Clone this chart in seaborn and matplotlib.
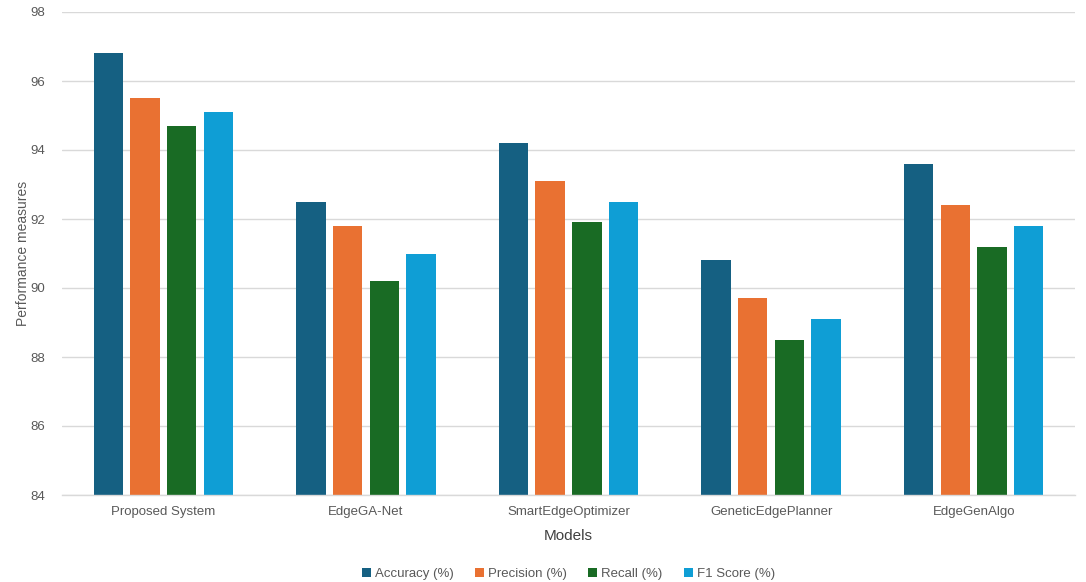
import matplotlib
matplotlib.use("Agg")
import matplotlib.pyplot as plt
import seaborn as sns
import pandas as pd

models = ["Proposed System", "EdgeGA-Net", "SmartEdgeOptimizer", "GeneticEdgePlanner", "EdgeGenAlgo"]
metrics = ["Accuracy (%)", "Precision (%)", "Recall (%)", "F1 Score (%)"]
accuracy = [96.8, 92.5, 94.2, 90.8, 93.6]
precision = [95.5, 91.8, 93.1, 89.7, 92.4]
recall = [94.7, 90.2, 91.9, 88.5, 91.2]
f1_score = [95.1, 91.0, 92.5, 89.1, 91.8]
colors = ["#156082", "#E97132", "#196B24", "#0F9ED5"]
yticks = [84, 86, 88, 90, 92, 94, 96, 98]

rows = []
for name, vals in zip(metrics, [accuracy, precision, recall, f1_score]):
    for m, v in zip(models, vals):
        rows.append({"Model": m, "Metric": name, "Value": v})
df = pd.DataFrame(rows)

sns.set_theme(style="white")
plt.rcParams["font.family"] = ["Liberation Sans", "DejaVu Sans"]

fig = plt.figure(figsize=(10.86, 5.82), dpi=100)
ax = fig.add_axes([62/1086, 1-495/582, (1075-62)/1086, (495-12)/582])

sns.barplot(data=df, x="Model", y="Value", hue="Metric", hue_order=metrics,
            palette=colors, width=0.725, gap=0.2, ax=ax, saturation=1,
            errorbar=None, legend=True, linewidth=0, edgecolor="none")

ax.set_ylim(84, 98)
ax.set_xlim(-0.5, 4.5)
ax.set_yticks(yticks)
ax.yaxis.grid(True, color="#d9d9d9", linewidth=1)
ax.set_axisbelow(True)
for s in ["left", "right", "top"]:
    ax.spines[s].set_visible(False)
ax.spines["bottom"].set_color("#d9d9d9")
ax.spines["bottom"].set_linewidth(1)
ax.tick_params(axis="both", length=0, colors="#595959", labelsize=9.5)
ax.tick_params(axis="x", pad=8)
ax.tick_params(axis="y", pad=12)
ax.set_xlabel("Models", fontsize=11, color="#404040", labelpad=8)
ax.set_ylabel("Performance measures", fontsize=10, color="#595959")
ax.yaxis.set_label_coords(-0.032, 0.5)

leg = ax.legend(loc="center", bbox_to_anchor=(0.5, -0.163), ncol=4, frameon=False,
                fontsize=9.5, handlelength=0.7, handleheight=0.7, handletextpad=0.3,
                columnspacing=1.6)
for t in leg.get_texts():
    t.set_color("#595959")

fig.savefig("out.png", dpi=100)
